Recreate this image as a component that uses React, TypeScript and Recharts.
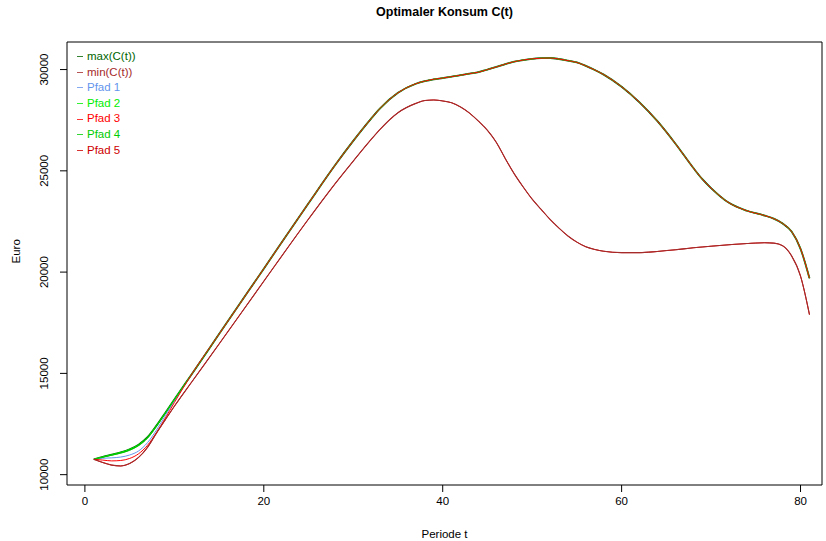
import { LineChart, Line, XAxis, YAxis, ReferenceArea } from "recharts";

// Periode t (Stützstellen)
const T = [
  1, 2, 3, 4, 5, 6, 7, 8, 9, 10,
  12, 15, 20, 25, 28, 30, 32, 33, 35, 37,
  38, 39, 40, 41, 42, 43, 44, 45, 46, 47,
  48, 49, 50, 51, 52, 53, 54, 55, 56, 57,
  58, 60, 62, 64, 66, 68, 69, 70, 72, 74,
  76, 77, 78, 79, 80, 81,
];

const MAX_C = [
  10760, 10880, 10990, 11100, 11250, 11480, 11850, 12420, 13060, 13710,
  15000, 16940, 20170, 23400, 25300, 26480, 27580, 28085, 28850, 29300,
  29430, 29520, 29580, 29650, 29720, 29800, 29870, 30000, 30130, 30270,
  30390, 30470, 30530, 30560, 30570, 30520, 30440, 30350, 30180, 29980,
  29750, 29150, 28380, 27450, 26350, 25150, 24600, 24150, 23420, 23030,
  22790, 22640, 22400, 22000, 21150, 19700,
];

const MIN_C = [
  10760, 10600, 10470, 10430, 10550, 10850, 11350, 12050, 12720, 13380,
  14610, 16450, 19550, 22620, 24380, 25480, 26550, 27050, 27870, 28330,
  28470, 28500, 28450, 28360, 28150, 27850, 27450, 27000, 26400, 25600,
  24850, 24200, 23600, 23100, 22600, 22170, 21780, 21480, 21250, 21120,
  21030, 20960, 20960, 21020, 21100, 21200, 21240, 21280, 21350, 21410,
  21450, 21430, 21300, 20800, 19800, 17900,
];

const PFAD_1 = [10760, 10810, 10830, 10870, 10970, 11170, 11580, 12200, 12920, 13640, ...MAX_C.slice(10)];
const PFAD_2 = [...MAX_C];
const PFAD_3 = [10760, 10720, 10680, 10700, 10800, 11030, 11450, 12080, 12800, 13560, ...MAX_C.slice(10)];
const PFAD_4 = [10760, 10860, 10960, 11060, 11200, 11430, 11800, 12380, 13040, 13700, ...MAX_C.slice(10)];
const PFAD_5 = [...MIN_C];

const X_TICKS = [0, 20, 40, 60, 80];
const Y_TICKS = [10000, 15000, 20000, 25000, 30000];

const X_DOMAIN: [number, number] = [-2, 82.4];
const Y_DOMAIN: [number, number] = [9490, 31360];

const COLORS = {
  max: "#006400",
  min: "#A52A2A",
  p1: "#6495ED",
  p2: "#00EE00",
  p3: "#FF0000",
  p4: "#00CD00",
  p5: "#CD0000",
};

const LEGEND_ITEMS = [
  { label: "max(C(t))", color: COLORS.max },
  { label: "min(C(t))", color: COLORS.min },
  { label: "Pfad 1", color: COLORS.p1 },
  { label: "Pfad 2", color: COLORS.p2 },
  { label: "Pfad 3", color: COLORS.p3 },
  { label: "Pfad 4", color: COLORS.p4 },
  { label: "Pfad 5", color: COLORS.p5 },
];

const data = T.map((t, i) => ({
  t,
  max: MAX_C[i],
  min: MIN_C[i],
  p1: PFAD_1[i],
  p2: PFAD_2[i],
  p3: PFAD_3[i],
  p4: PFAD_4[i],
  p5: PFAD_5[i],
}));

const FONT = "'Liberation Sans', Arial, Helvetica, sans-serif";

const YTick = ({ y, payload }: any) => (
  <text
    x={48}
    y={y}
    transform={`rotate(-90 48 ${y})`}
    textAnchor="middle"
    fontSize={11.5}
    fontFamily={FONT}
    fill="#000"
  >
    {payload.value}
  </text>
);

export default function App() {
  return (
    <div style={{ position: "absolute", left: 0, top: 0, width: 826, height: 541, background: "#fff", fontFamily: FONT }}>
      <div
        style={{
          position: "absolute",
          top: 5,
          left: 67,
          width: 755,
          textAlign: "center",
          fontWeight: "bold",
          fontSize: 12.5,
        }}
      >
        Optimaler Konsum C(t)
      </div>
      <LineChart
        width={826}
        height={541}
        data={data}
        margin={{ top: 42, right: 4, bottom: 0, left: 0 }}
      >
        <XAxis
          dataKey="t"
          type="number"
          domain={X_DOMAIN}
          ticks={X_TICKS}
          axisLine={false}
          tickLine={{ stroke: "#000" }}
          tickSize={7}
          tickMargin={5}
          height={56}
          tick={{ fill: "#000", fontSize: 11.5, fontFamily: FONT }}
          label={{ value: "Periode t", position: "insideBottom", offset: 3, fill: "#000", fontSize: 11.5, fontFamily: FONT }}
        />
        <YAxis
          type="number"
          domain={Y_DOMAIN}
          ticks={Y_TICKS}
          width={67}
          axisLine={false}
          tickLine={{ stroke: "#000" }}
          tickSize={7}
          tick={<YTick />}
          label={{ value: "Euro", angle: -90, position: "insideLeft", offset: 16, fill: "#000", fontSize: 11.5, fontFamily: FONT }}
        />
        <ReferenceArea
          x1={X_DOMAIN[0]}
          x2={X_DOMAIN[1]}
          y1={Y_DOMAIN[0]}
          y2={Y_DOMAIN[1]}
          fill="none"
          stroke="#000"
          strokeWidth={1}
          ifOverflow="visible"
        />
        <Line dataKey="max" type="monotone" stroke={COLORS.max} strokeWidth={1.8} dot={false} isAnimationActive={false} />
        <Line dataKey="p1" type="monotone" stroke={COLORS.p1} strokeWidth={1} dot={false} isAnimationActive={false} />
        <Line dataKey="p2" type="monotone" stroke={COLORS.p2} strokeWidth={1} dot={false} isAnimationActive={false} />
        <Line dataKey="p4" type="monotone" stroke={COLORS.p4} strokeWidth={1} dot={false} isAnimationActive={false} />
        <Line dataKey="p3" type="monotone" stroke={COLORS.p3} strokeWidth={1} dot={false} isAnimationActive={false} />
        <Line dataKey="p5" type="monotone" stroke={COLORS.p5} strokeWidth={1} dot={false} isAnimationActive={false} />
        <Line dataKey="min" type="monotone" stroke={COLORS.min} strokeWidth={1.1} dot={false} isAnimationActive={false} />
      </LineChart>
      <div style={{ position: "absolute", top: 49, left: 77, fontSize: 11.5, lineHeight: "15.6px" }}>
        {LEGEND_ITEMS.map((it) => (
          <div key={it.label} style={{ display: "flex", alignItems: "center", color: it.color }}>
            <span style={{ display: "inline-block", width: 6, height: 1, background: it.color, marginRight: 4, opacity: 0.8 }} />
            {it.label}
          </div>
        ))}
      </div>
    </div>
  );
}
